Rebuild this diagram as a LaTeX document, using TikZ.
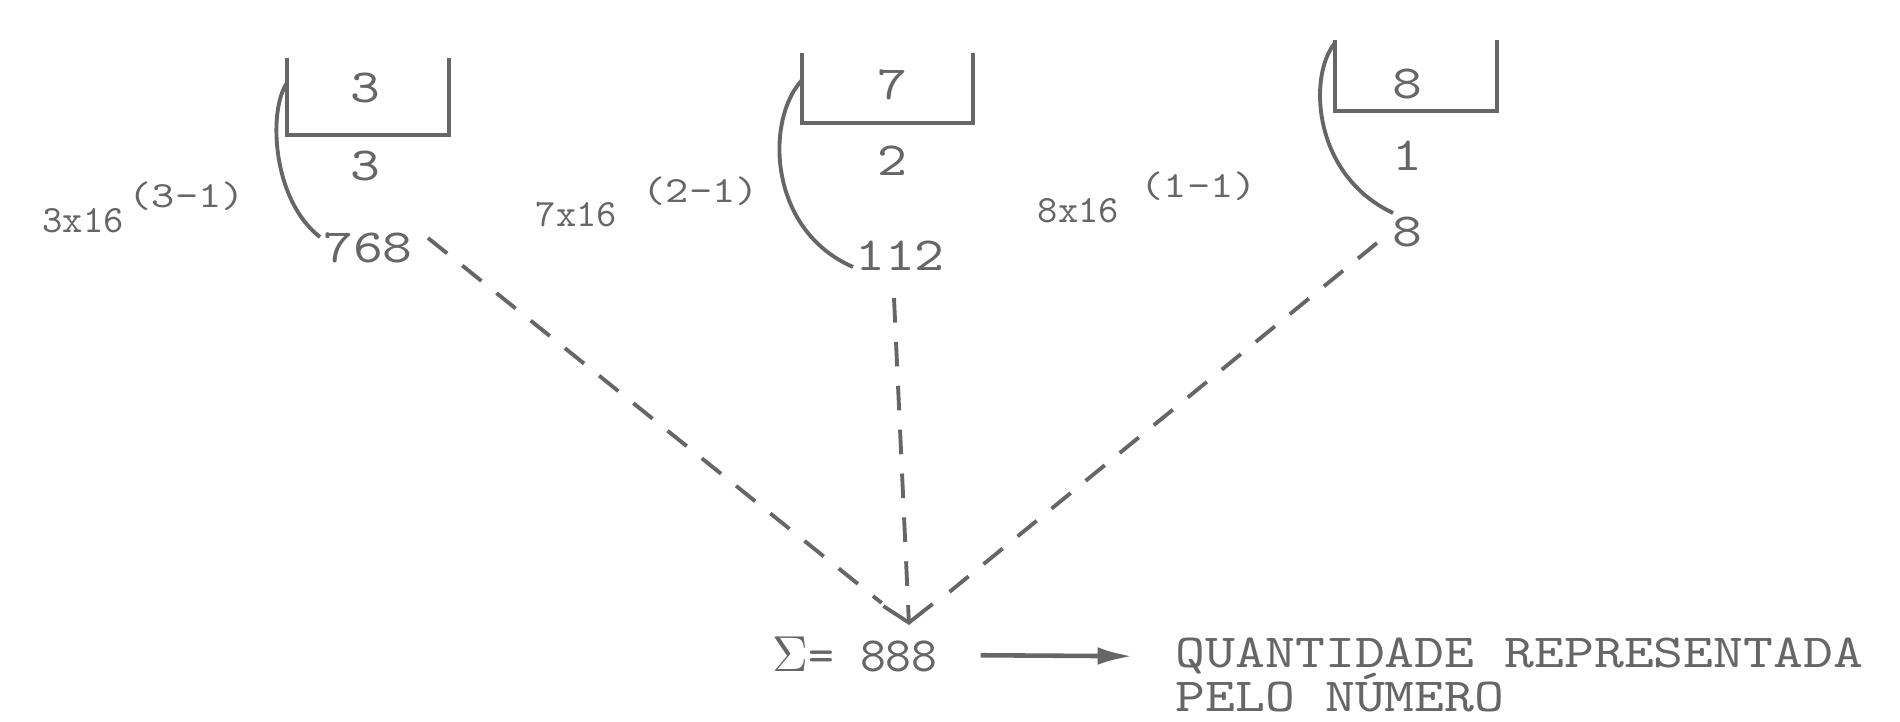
\documentclass[tikz,border=0pt]{standalone}
\usepackage{fontspec}
\newfontfamily\tw{lmmono10-regular.otf}[FakeStretch=1.2]
\newfontfamily\tn{lmmono10-regular.otf}
\usetikzlibrary{arrows.meta}
\definecolor{ink}{HTML}{666666}
\tikzset{
  txt/.style={inner sep=0pt, text=ink, font=\tw\fontsize{13.5}{16}\selectfont},
  lbl/.style={inner sep=0pt, text=ink, font=\tn\fontsize{11}{13}\selectfont, anchor=base west},
  expo/.style={inner sep=0pt, text=ink, font=\tw\fontsize{10.5}{13}\selectfont, anchor=base west},
  boxline/.style={draw=ink, line width=1.1pt},
  arcline/.style={draw=ink, line width=1.1pt},
  dsh/.style={draw=ink, line width=1.1pt, dash pattern=on 7pt off 5.5pt},
  sumarrow/.style={draw=ink, line width=1.3pt, -{Latex[length=10pt,width=5pt]}},
}
\begin{document}
\begin{tikzpicture}[x=0.1mm,y=-0.1mm]
\useasboundingbox[fill=white] (0,0) rectangle (1900,722);

% boxes
\draw[boxline] (287,58) -- (287,135) -- (449,135) -- (449,58);
\draw[boxline] (802,53) -- (802,123) -- (973,123) -- (973,53);
\draw[boxline] (1335,40) -- (1335,111) -- (1497,111) -- (1497,40);

% digits in and below the boxes
\node[txt] (d1) at (365,88) {3};
\node[txt] (p1) at (365,166) {3};
\node[txt] (n768) at (368,248) {768};
\node[txt] (d2) at (892,85) {7};
\node[txt] (p2) at (892,161) {2};
\node[txt] (n112) at (900,256) {112};
\node[txt] (d3) at (1407,84) {8};
\node[txt] (p3) at (1407,156) {1};
\node[txt] (n8) at (1407,232) {8};

% labels
\node[lbl] (l1) at (42,233) {3x16};
\node[expo] (e1) at (128,208) {(3-1)};
\node[lbl] (l2) at (535,227) {7x16};
\node[expo] (e2) at (642,203) {(2-1)};
\node[lbl] (l3) at (1037,223) {8x16};
\node[expo] (e3) at (1140,198) {(1-1)};

% arcs
\draw[arcline] (287,83) .. controls (268,110) and (272,200) .. (320,237);
\draw[arcline] (802,80) .. controls (765,120) and (768,230) .. (853,267);
\draw[arcline] (1335,43) .. controls (1308,75) and (1312,175) .. (1393,213);

% sum
\coordinate (tip) at (909,625);
\node[txt, font=\tn\fontsize{14}{16}\selectfont, anchor=base west] (sum) at (772,672) {$\Sigma$= 888};
\node[txt, anchor=base west] (qt1) at (1175,668) {QUANTIDADE REPRESENTADA};
\node[txt, anchor=base west] (qt2) at (1175,712) {PELO NÚMERO};

% dashed connectors
\coordinate (s1) at (428,238);
\coordinate (s2) at (894,298);
\coordinate (s3) at (1377,243);
\draw[dsh, shorten >=10pt] (s1) -- (tip);
\draw[dsh, -{Straight Barb[length=5pt,width=14pt]}] (s2) -- (tip);
\draw[dsh, shorten >=10pt] (s3) -- (tip);

\draw[sumarrow, shorten <=12pt, shorten >=12pt] (sum.east) -- (qt1.west);
\end{tikzpicture}
\end{document}
